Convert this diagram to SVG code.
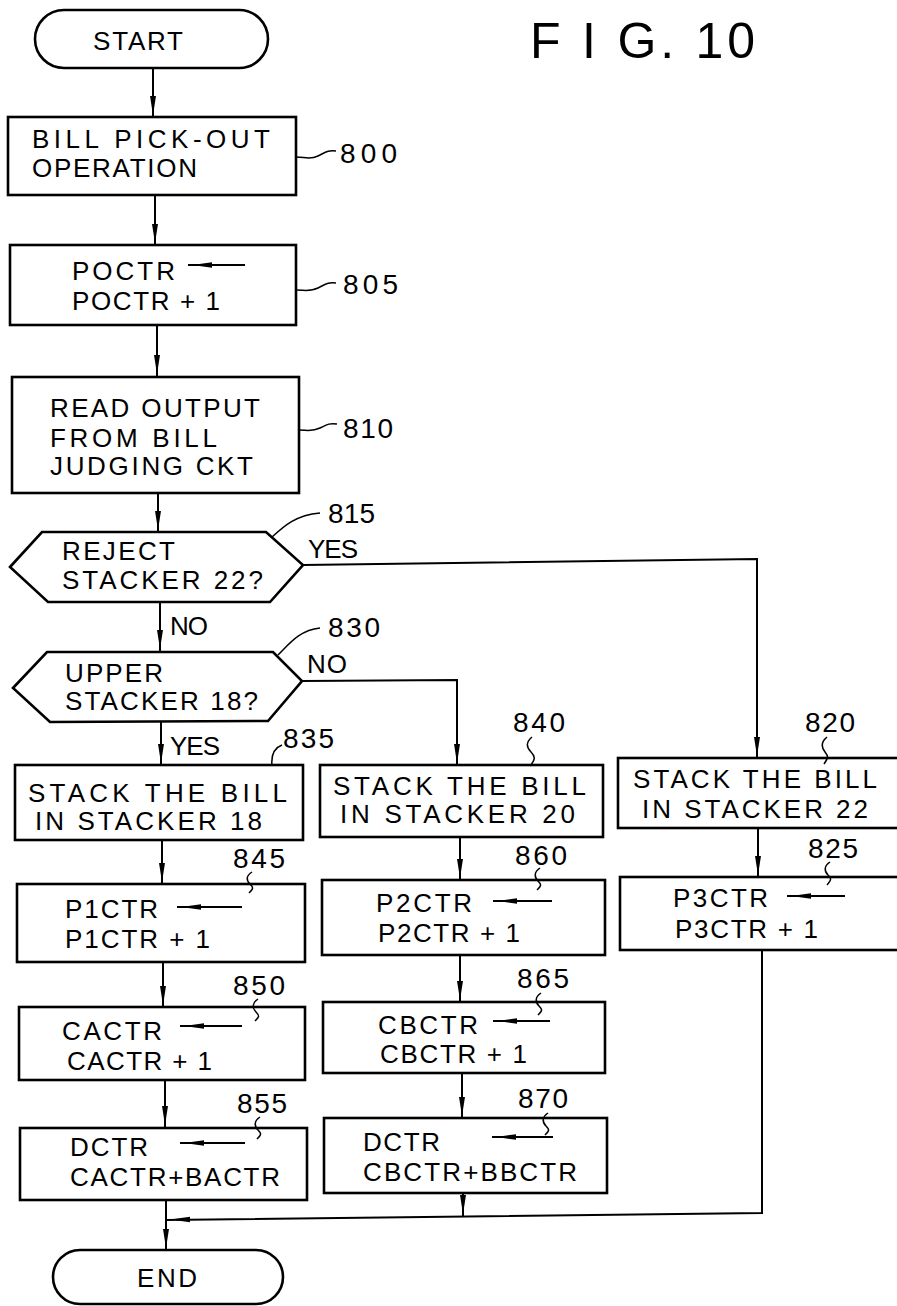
<svg xmlns="http://www.w3.org/2000/svg" xmlns:xlink="http://www.w3.org/1999/xlink" width="897" height="1306" viewBox="0 0 897 1306">
<style>
  .bx{fill:#fff;stroke:#000;stroke-width:2.6}
  .ln{fill:none;stroke:#000;stroke-width:2}
  .ld{fill:none;stroke:#000;stroke-width:1.5}
  text{font-family:"Liberation Sans",Arial,sans-serif;font-size:26px;fill:#000}
  .num{font-size:28px}
  .fig{font-size:50px}
</style>
<defs>
  <path id="ad" d="M-3,-19 L3,-19 L0,0 Z" fill="#000"/>
  <path id="al" d="M0,0 L20,-2.8 L20,2.8 Z" fill="#000"/>
</defs>
<rect width="897" height="1306" fill="#fff"/>

<text class="fig" x="530" y="58" textLength="225" lengthAdjust="spacing">F I G. 10</text>

<g id="connectors">
  <path class="ln" d="M153,68 V117"/>
  <path class="ln" d="M155,195 V245"/>
  <path class="ln" d="M157,325 V377"/>
  <path class="ln" d="M158,493 V532"/>
  <path class="ln" d="M303,565 L757,559 V758"/>
  <path class="ln" d="M160,602 V652"/>
  <path class="ln" d="M302,681 L457,680 V765"/>
  <path class="ln" d="M161,721 V765"/>
  <path class="ln" d="M162,840 V884"/>
  <path class="ln" d="M163,962 V1007"/>
  <path class="ln" d="M165,1080 V1128"/>
  <path class="ln" d="M166,1200 V1250"/>
  <path class="ln" d="M460,837 V880"/>
  <path class="ln" d="M460,955 V1002"/>
  <path class="ln" d="M462,1073 V1118"/>
  <path class="ln" d="M463,1193 V1216"/>
  <path class="ln" d="M758,828 V877"/>
  <path class="ln" d="M762,950 V1213 L166,1220"/>
  <use xlink:href="#ad" x="153" y="115"/>
  <use xlink:href="#ad" x="155" y="243"/>
  <use xlink:href="#ad" x="157" y="374"/>
  <use xlink:href="#ad" x="158" y="530"/>
  <use xlink:href="#ad" x="160" y="649"/>
  <use xlink:href="#ad" x="161" y="763"/>
  <use xlink:href="#ad" x="162" y="882"/>
  <use xlink:href="#ad" x="163" y="1005"/>
  <use xlink:href="#ad" x="165" y="1125"/>
  <use xlink:href="#ad" x="166" y="1248"/>
  <use xlink:href="#ad" x="457" y="763"/>
  <use xlink:href="#ad" x="460" y="878"/>
  <use xlink:href="#ad" x="460" y="1000"/>
  <use xlink:href="#ad" x="462" y="1116"/>
  <use xlink:href="#ad" x="463" y="1214"/>
  <use xlink:href="#ad" x="757" y="756"/>
  <use xlink:href="#ad" x="758" y="875"/>
  <use xlink:href="#al" x="170" y="1219.5"/>
</g>

<g id="start">
  <rect class="bx" x="35" y="10" width="233" height="58" rx="29"/>
  <text x="93" y="50" textLength="90" lengthAdjust="spacing">START</text>
</g>

<g id="n800">
  <rect class="bx" x="8" y="117" width="288" height="78"/>
  <text x="32" y="148" textLength="238" lengthAdjust="spacing">BILL PICK-OUT</text>
  <text x="32" y="177" textLength="165" lengthAdjust="spacing">OPERATION</text>
  <path class="ld" d="M296,157 C305,157 310,160 318,156 S328,150 336,151"/>
  <text class="num" x="340" y="163" textLength="57" lengthAdjust="spacing">800</text>
</g>

<g id="n805">
  <rect class="bx" x="10" y="245" width="286" height="80"/>
  <text x="72" y="280" textLength="103" lengthAdjust="spacing">POCTR</text>
  <path class="ln" d="M188,265 H245"/>
  <use xlink:href="#al" x="192" y="265"/>
  <text x="72" y="310" textLength="148" lengthAdjust="spacing">POCTR + 1</text>
  <path class="ld" d="M296,290 C305,290 310,292 318,288 S328,282 336,283"/>
  <text class="num" x="343" y="294" textLength="55" lengthAdjust="spacing">805</text>
</g>

<g id="n810">
  <rect class="bx" x="12" y="377" width="287" height="116"/>
  <text x="50" y="417" textLength="210" lengthAdjust="spacing">READ OUTPUT</text>
  <text x="50" y="447" textLength="167" lengthAdjust="spacing">FROM BILL</text>
  <text x="50" y="475" textLength="203" lengthAdjust="spacing">JUDGING CKT</text>
  <path class="ld" d="M299,430 C307,430 312,432 320,428 S330,423 337,424"/>
  <text class="num" x="343" y="438" textLength="50" lengthAdjust="spacing">810</text>
</g>

<g id="n815">
  <polygon class="bx" points="10,567 42,532 266,532 303,565 270,602 48,602"/>
  <text x="62" y="560" textLength="113" lengthAdjust="spacing">REJECT</text>
  <text x="62" y="589" textLength="201" lengthAdjust="spacing">STACKER 22?</text>
  <path class="ld" d="M272,537 C284,526 296,515 320,513"/>
  <text class="num" x="328" y="523" textLength="47" lengthAdjust="spacing">815</text>
  <text x="308" y="558" textLength="50" lengthAdjust="spacing">YES</text>
  <text x="170" y="635" textLength="38" lengthAdjust="spacing">NO</text>
</g>

<g id="n830">
  <polygon class="bx" points="13,688 47,652 273,652 302,681 268,721 50,722"/>
  <text x="65" y="682" textLength="98" lengthAdjust="spacing">UPPER</text>
  <text x="65" y="710" textLength="193" lengthAdjust="spacing">STACKER 18?</text>
  <path class="ld" d="M278,655 C290,643 300,630 320,628"/>
  <text class="num" x="328" y="637" textLength="52" lengthAdjust="spacing">830</text>
  <text x="307" y="673" textLength="40" lengthAdjust="spacing">NO</text>
  <text x="170" y="755" textLength="50" lengthAdjust="spacing">YES</text>
</g>

<g id="n835">
  <rect class="bx" x="15" y="765" width="288" height="75"/>
  <text x="28" y="802" textLength="259" lengthAdjust="spacing">STACK THE BILL</text>
  <text x="35" y="830" textLength="227" lengthAdjust="spacing">IN STACKER 18</text>
  <path class="ld" d="M272,766 C271,756 274,748 282,745"/>
  <text class="num" x="283" y="748" textLength="51" lengthAdjust="spacing">835</text>
</g>

<g id="n840">
  <rect class="bx" x="320" y="765" width="283" height="72"/>
  <text x="333" y="795" textLength="253" lengthAdjust="spacing">STACK THE BILL</text>
  <text x="340" y="823" textLength="235" lengthAdjust="spacing">IN STACKER 20</text>
  <path class="ld" d="M532,737 C526,742 526,747 531,752 S535,760 530,766"/>
  <text class="num" x="513" y="732" textLength="52" lengthAdjust="spacing">840</text>
</g>

<g id="n820">
  <rect class="bx" x="618" y="758" width="290" height="70"/>
  <text x="633" y="788" textLength="244" lengthAdjust="spacing">STACK THE BILL</text>
  <text x="642" y="818" textLength="226" lengthAdjust="spacing">IN STACKER 22</text>
  <path class="ld" d="M827,737 C821,742 821,747 825,752 S828,758 824,764"/>
  <text class="num" x="805" y="732" textLength="50" lengthAdjust="spacing">820</text>
</g>

<g id="n845">
  <rect class="bx" x="17" y="884" width="288" height="78"/>
  <text x="65" y="918" textLength="93" lengthAdjust="spacing">P1CTR</text>
  <path class="ln" d="M177,907 H242"/>
  <use xlink:href="#al" x="181" y="907"/>
  <text x="65" y="948" textLength="145" lengthAdjust="spacing">P1CTR + 1</text>
  <path class="ld" d="M252,872 C246,876 246,880 250,884 S253,889 249,893"/>
  <text class="num" x="233" y="868" textLength="52" lengthAdjust="spacing">845</text>
</g>

<g id="n860">
  <rect class="bx" x="322" y="880" width="283" height="75"/>
  <text x="376" y="912" textLength="96" lengthAdjust="spacing">P2CTR</text>
  <path class="ln" d="M493,901 H552"/>
  <use xlink:href="#al" x="497" y="901"/>
  <text x="378" y="942" textLength="142" lengthAdjust="spacing">P2CTR + 1</text>
  <path class="ld" d="M540,868 C534,872 534,877 538,881 S541,886 537,890"/>
  <text class="num" x="515" y="865" textLength="52" lengthAdjust="spacing">860</text>
</g>

<g id="n825">
  <rect class="bx" x="620" y="877" width="288" height="73"/>
  <text x="673" y="907" textLength="95" lengthAdjust="spacing">P3CTR</text>
  <path class="ln" d="M787,896 H845"/>
  <use xlink:href="#al" x="791" y="896"/>
  <text x="675" y="938" textLength="143" lengthAdjust="spacing">P3CTR + 1</text>
  <path class="ld" d="M830,862 C824,866 824,871 828,875 S831,880 827,885"/>
  <text class="num" x="808" y="858" textLength="50" lengthAdjust="spacing">825</text>
</g>

<g id="n850">
  <rect class="bx" x="19" y="1007" width="286" height="73"/>
  <text x="62" y="1040" textLength="100" lengthAdjust="spacing">CACTR</text>
  <path class="ln" d="M180,1026 H242"/>
  <use xlink:href="#al" x="184" y="1026"/>
  <text x="67" y="1070" textLength="145" lengthAdjust="spacing">CACTR + 1</text>
  <path class="ld" d="M258,999 C252,1003 252,1008 256,1012 S259,1017 255,1021"/>
  <text class="num" x="233" y="995" textLength="52" lengthAdjust="spacing">850</text>
</g>

<g id="n865">
  <rect class="bx" x="323" y="1002" width="282" height="71"/>
  <text x="378" y="1034" textLength="100" lengthAdjust="spacing">CBCTR</text>
  <path class="ln" d="M493,1021 H550"/>
  <use xlink:href="#al" x="497" y="1021"/>
  <text x="380" y="1063" textLength="147" lengthAdjust="spacing">CBCTR + 1</text>
  <path class="ld" d="M541,993 C535,997 535,1002 539,1006 S542,1011 538,1015"/>
  <text class="num" x="517" y="988" textLength="52" lengthAdjust="spacing">865</text>
</g>

<g id="n855">
  <rect class="bx" x="20" y="1128" width="287" height="72"/>
  <text x="70" y="1156" textLength="78" lengthAdjust="spacing">DCTR</text>
  <path class="ln" d="M180,1143 H245"/>
  <use xlink:href="#al" x="184" y="1143"/>
  <text x="70" y="1186" textLength="210" lengthAdjust="spacing">CACTR+BACTR</text>
  <path class="ld" d="M260,1117 C254,1121 254,1126 258,1130 S261,1135 257,1139"/>
  <text class="num" x="237" y="1113" textLength="50" lengthAdjust="spacing">855</text>
</g>

<g id="n870">
  <rect class="bx" x="324" y="1118" width="283" height="75"/>
  <text x="363" y="1151" textLength="77" lengthAdjust="spacing">DCTR</text>
  <path class="ln" d="M492,1137 H553"/>
  <use xlink:href="#al" x="496" y="1137"/>
  <text x="363" y="1181" textLength="214" lengthAdjust="spacing">CBCTR+BBCTR</text>
  <path class="ld" d="M548,1113 C542,1117 542,1122 546,1126 S549,1131 545,1135"/>
  <text class="num" x="518" y="1108" textLength="50" lengthAdjust="spacing">870</text>
</g>

<g id="end">
  <rect class="bx" x="53" y="1250" width="230" height="54" rx="27"/>
  <text x="137" y="1287" textLength="60" lengthAdjust="spacing">END</text>
</g>
</svg>
